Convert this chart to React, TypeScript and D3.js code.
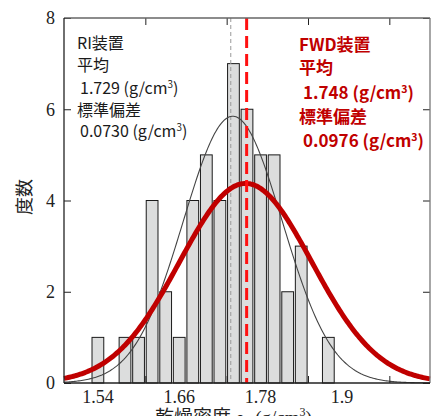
import React, { useRef, useEffect } from "react";
import * as d3 from "d3";

// histogram bins (upper bound of each 0.02 bin) and their counts
const binUpper = [1.54, 1.56, 1.58, 1.6, 1.62, 1.64, 1.66, 1.68, 1.7, 1.72, 1.74, 1.76, 1.78, 1.8, 1.82, 1.84, 1.86, 1.88];
const binCounts = [1, 0, 1, 1, 4, 2, 1, 4, 5, 4, 7, 6, 5, 5, 2, 3, 0, 1];
const binWidth = 0.02;

const xTickLabels = ["1.54", "1.66", "1.78", "1.9"];
const xTickMarks = [1.6, 1.72, 1.84, 1.96];
const yTicks = [0, 2, 4, 6, 8];

// fitted normal curves
const riMean = 1.729;
const riSd = 0.073;
const fwdMean = 1.748;
const fwdSd = 0.0976;
const curveScale = 1.07; // count * bin width used for the fitted curves

const riLines = ["RI装置", "平均", "1.729 (g/cm", "標準偏差", "0.0730 (g/cm"];
const fwdLines = ["FWD装置", "平均", "1.748 (g/cm", "標準偏差", "0.0976 (g/cm"];

const W = 434;
const H = 416;
const margin = { top: 18, right: 4, bottom: 33, left: 64 };
const sansJP = "'Noto Sans CJK JP', 'Noto Sans', sans-serif";
const serif = "'Liberation Serif', 'DejaVu Serif', serif";

export default function App() {
  const svgRef = useRef<SVGSVGElement>(null);

  useEffect(() => {
    const svg = d3.select(svgRef.current);
    svg.selectAll("*").remove();

    const x0 = margin.left;
    const x1 = W - margin.right;
    const y0 = H - margin.bottom;
    const y1 = margin.top;

    const x = d3.scaleLinear().domain([1.48, 2.02]).range([x0, x1]);
    const y = d3.scaleLinear().domain([0, 8]).range([y0, y1]);

    // bars
    svg
      .append("g")
      .selectAll("rect")
      .data(binUpper.map((u, i) => ({ u, c: binCounts[i] })).filter((d) => d.c > 0))
      .join("rect")
      .attr("x", (d) => x(d.u - binWidth) + 0.9)
      .attr("width", (d) => x(d.u) - x(d.u - binWidth) - 1.8)
      .attr("y", (d) => y(d.c))
      .attr("height", (d) => y0 - y(d.c))
      .attr("fill", "#dcdddd")
      .attr("stroke", "#1a1a1a")
      .attr("stroke-width", 1);

    const pdf = (v: number, m: number, s: number) =>
      (curveScale / (s * Math.sqrt(2 * Math.PI))) * Math.exp(-0.5 * ((v - m) / s) ** 2);
    const grid = d3.range(1.48, 2.0201, 0.002);

    // RI mean line
    svg
      .append("line")
      .attr("x1", x(riMean) - 2)
      .attr("x2", x(riMean) - 2)
      .attr("y1", y1)
      .attr("y2", y0)
      .attr("stroke", "#999")
      .attr("stroke-width", 1)
      .attr("stroke-dasharray", "4,3");

    // RI curve
    svg
      .append("path")
      .datum(grid)
      .attr("d", d3.line<number>().x((v) => x(v)).y((v) => y(pdf(v, riMean, riSd))))
      .attr("fill", "none")
      .attr("stroke", "#444")
      .attr("stroke-width", 1.1);

    // FWD curve
    svg
      .append("path")
      .datum(grid)
      .attr("d", d3.line<number>().x((v) => x(v)).y((v) => y(pdf(v, fwdMean, fwdSd))))
      .attr("fill", "none")
      .attr("stroke", "#c00000")
      .attr("stroke-width", 5);

    // FWD mean line
    svg
      .append("line")
      .attr("x1", x(fwdMean) + 1)
      .attr("x2", x(fwdMean) + 1)
      .attr("y1", y1)
      .attr("y2", y0)
      .attr("stroke", "#ff1010")
      .attr("stroke-width", 3)
      .attr("stroke-dasharray", "12,6");

    // axes (ticks inward)
    const styleAxis = (g: any) => {
      g.select(".domain").remove();
      g.selectAll("line").attr("stroke", "#222");
      g.selectAll("text").remove();
    };
    svg.append("g").attr("transform", `translate(0,${y0})`)
      .call(d3.axisBottom(x).tickValues(xTickMarks).tickSize(-7)).call(styleAxis);
    svg.append("g").attr("transform", `translate(0,${y1})`)
      .call(d3.axisTop(x).tickValues(xTickMarks).tickSize(-7)).call(styleAxis);
    svg.append("g").attr("transform", `translate(${x0},0)`)
      .call(d3.axisLeft(y).tickValues(yTicks).tickSize(-7)).call(styleAxis);
    svg.append("g").attr("transform", `translate(${x1},0)`)
      .call(d3.axisRight(y).tickValues(yTicks).tickSize(-7)).call(styleAxis);

    // frame
    const frame = svg.append("g").attr("fill", "none");
    frame.append("line").attr("x1", x0).attr("x2", x1).attr("y1", y1).attr("y2", y1).attr("stroke", "#666").attr("stroke-width", 1.3);
    frame.append("line").attr("x1", x1).attr("x2", x1).attr("y1", y1).attr("y2", y0).attr("stroke", "#777").attr("stroke-width", 1.3);
    frame.append("line").attr("x1", x0).attr("x2", x1).attr("y1", y0).attr("y2", y0).attr("stroke", "#222").attr("stroke-width", 1.3);
    frame.append("line").attr("x1", x0).attr("x2", x0).attr("y1", y1).attr("y2", y0).attr("stroke", "#222").attr("stroke-width", 1.3);

    // tick labels
    svg.append("g")
      .selectAll("text")
      .data(xTickLabels)
      .join("text")
      .attr("x", (d) => x(+d - binWidth / 2))
      .attr("y", 403)
      .attr("text-anchor", "middle")
      .attr("font-family", serif)
      .attr("font-size", 18)
      .attr("fill", "#222")
      .text((d) => d);
    svg.append("g")
      .selectAll("text")
      .data(yTicks)
      .join("text")
      .attr("x", 55)
      .attr("y", (d) => y(d))
      .attr("dy", "0.35em")
      .attr("text-anchor", "end")
      .attr("font-family", serif)
      .attr("font-size", 18)
      .attr("fill", "#222")
      .text((d) => d);

    // axis titles
    svg.append("text")
      .attr("transform", "translate(31,197) rotate(-90)")
      .attr("text-anchor", "middle")
      .attr("font-family", sansJP)
      .attr("font-size", 18)
      .attr("fill", "#222")
      .text("度数");
    const xt = svg.append("text")
      .attr("x", 155)
      .attr("y", 424)
      .attr("font-family", sansJP)
      .attr("font-size", 19)
      .attr("fill", "#222");
    xt.append("tspan").text("乾燥密度 ");
    xt.append("tspan").attr("font-family", serif).attr("font-style", "italic").text("ρ");
    xt.append("tspan").attr("font-family", serif).attr("font-size", 12).attr("dy", 4).text("d");
    xt.append("tspan").attr("font-family", serif).attr("dy", -4).text(" (g/cm");
    xt.append("tspan").attr("font-family", serif).attr("font-size", 12).attr("dy", -8).text("3");
    xt.append("tspan").attr("font-family", serif).attr("dy", 8).text(")");

    // annotations
    const annot = (lines: string[], xs: number[], ys: number[], color: string, size: number, weight: string) => {
      lines.forEach((s, i) => {
        const t = svg.append("text")
          .attr("x", xs[i])
          .attr("y", ys[i])
          .attr("dy", "0.35em")
          .attr("font-family", sansJP)
          .attr("font-size", size)
          .attr("font-weight", weight)
          .attr("fill", color);
        t.append("tspan").text(s);
        if (s.endsWith("(g/cm")) {
          t.append("tspan").attr("font-size", size * 0.62).attr("dy", -size * 0.35).text("3");
          t.append("tspan").attr("dy", size * 0.35).text(")");
        }
      });
    };
    annot(riLines, [77, 77, 80, 77, 80], [43, 65, 88, 110, 131], "#1a1a1a", 16, "normal");
    annot(fwdLines, [299, 299, 303, 299, 303], [45, 68, 93, 117, 141], "#c00000", 17, "bold");
  }, []);

  return (
    <svg
      ref={svgRef}
      width={W}
      height={H}
      style={{ position: "absolute", left: 0, top: 0, background: "#fff" }}
    />
  );
}
